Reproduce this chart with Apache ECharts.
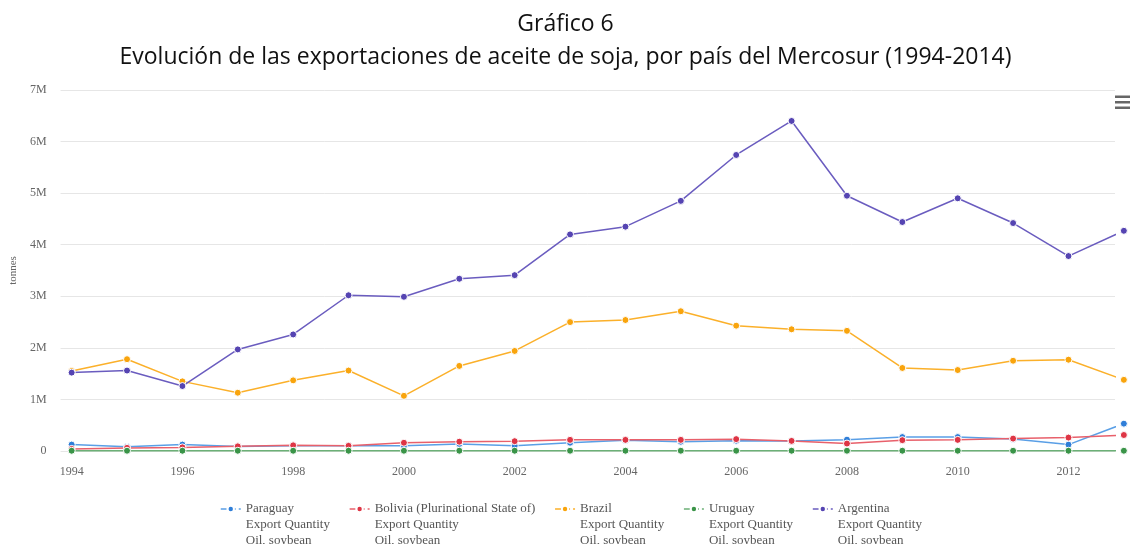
<!DOCTYPE html>
<html>
<head>
<meta charset="utf-8">
<script src="https://cdn.jsdelivr.net/npm/echarts@6/dist/echarts.min.js"></script>
<style>
  html, body { margin: 0; padding: 0; background: #fff; }
  #chart { width: 1131px; height: 544px; }
</style>
</head>
<body>
<div id="chart"></div>
<script>
// years and export quantities (tonnes)
const years = [1994, 1995, 1996, 1997, 1998, 1999, 2000, 2001, 2002, 2003,
  2004, 2005, 2006, 2007, 2008, 2009, 2010, 2011, 2012, 2013];
const yearLabels = [1994, 1996, 1998, 2000, 2002, 2004, 2006, 2008, 2010, 2012];

const paraguay = [124000, 80000, 124000, 85000, 100000, 100000, 100000, 137000, 100000, 160000,
  210000, 180000, 200000, 196000, 220000, 270000, 270000, 235000, 124000, 530000];
const bolivia = [40000, 60000, 70000, 90000, 110000, 100000, 160000, 180000, 190000, 216000,
  216000, 216000, 230000, 196000, 144000, 210000, 216000, 240000, 260000, 310000];
const brazil = [1550000, 1780000, 1350000, 1130000, 1370000, 1560000, 1070000, 1650000, 1940000, 2500000,
  2540000, 2710000, 2430000, 2360000, 2330000, 1610000, 1570000, 1750000, 1770000, 1380000];
const uruguay = [5000, 5000, 5000, 5000, 5000, 5000, 5000, 5000, 5000, 5000,
  5000, 5000, 5000, 5000, 5000, 5000, 5000, 5000, 5000, 5000];
const argentina = [1520000, 1560000, 1260000, 1970000, 2260000, 3020000, 2990000, 3340000, 3410000, 4200000,
  4350000, 4850000, 5740000, 6400000, 4950000, 4440000, 4900000, 4420000, 3780000, 4270000];

const countries = [
  { name: "Paraguay", data: paraguay, color: "#2f7ed8", line: "#5a9fe6" },
  { name: "Bolivia (Plurinational State of)", data: bolivia, color: "#de3545", line: "#e8606b" },
  { name: "Brazil", data: brazil, color: "#f9a40c", line: "#fbb02a" },
  { name: "Uruguay", data: uruguay, color: "#3a9448", line: "#6cb077" },
  { name: "Argentina", data: argentina, color: "#5544b2", line: "#6a5cbf" }
];
const suffix = "\nExport Quantity\nOil, soybean";

const chart = echarts.init(document.getElementById("chart"));

chart.setOption({
  backgroundColor: "#fff",
  animation: false,
  title: [
    {
      text: "Gráfico 6",
      left: "center", top: 8,
      textStyle: { fontFamily: "Open Sans", fontSize: 23, fontWeight: "normal", color: "#111" }
    },
    {
      text: "Evolución de las exportaciones de aceite de soja, por país del Mercosur (1994-2014)",
      left: "center", top: 41,
      textStyle: { fontFamily: "Open Sans", fontSize: 23, fontWeight: "normal", color: "#111" }
    }
  ],
  grid: { left: 60, right: 16, top: 90, bottom: 93 },
  legend: {
    data: countries.map(c => c.name + suffix),
    left: 215, top: 464,
    itemWidth: 20, itemHeight: 8, itemGap: 19,
    lineStyle: { type: "dashed", width: 1.5 },
    // two empty lines on top so the icon sits next to the first text line
    formatter: name => "\n\n" + name,
    textStyle: {
      fontFamily: "Liberation Serif", fontSize: 13, color: "#555", lineHeight: 16
    }
  },
  xAxis: {
    type: "value",
    min: 1993.8, max: 2012.84,
    axisLine: { show: false },
    axisTick: { show: false },
    splitLine: { show: false },
    axisLabel: {
      customValues: yearLabels,
      margin: 15,
      fontFamily: "Liberation Serif", fontSize: 12, color: "#666",
      formatter: v => String(v)
    }
  },
  yAxis: {
    type: "value",
    min: 0, max: 7000000, interval: 1000000,
    name: "tonnes",
    nameLocation: "middle",
    nameGap: 36,
    nameTextStyle: { fontFamily: "Liberation Serif", fontSize: 11, color: "#666" },
    axisLine: { show: false },
    axisTick: { show: false },
    splitLine: { lineStyle: { color: "#e6e6e6", width: 1 } },
    axisLabel: {
      margin: 14,
      fontFamily: "Liberation Serif", fontSize: 12, color: "#666",
      formatter: v => v === 0 ? "0" : (v / 1000000) + "M"
    }
  },
  graphic: [
    { type: "rect", shape: { x: 1115, y: 95.5, width: 15, height: 2.5 }, style: { fill: "#666" } },
    { type: "rect", shape: { x: 1115, y: 101, width: 15, height: 2.5 }, style: { fill: "#666" } },
    { type: "rect", shape: { x: 1115, y: 106.5, width: 15, height: 2.5 }, style: { fill: "#666" } }
  ],
  series: countries.map(c => ({
    name: c.name + suffix,
    type: "line",
    clip: false,
    data: years.map((y, i) => [y, c.data[i]]),
    symbol: "circle",
    symbolSize: 7,
    color: c.color,
    lineStyle: { color: c.line, width: 1.5 },
    itemStyle: { color: c.color, borderColor: "#fff", borderWidth: 1 }
  }))
});
</script>
</body>
</html>
